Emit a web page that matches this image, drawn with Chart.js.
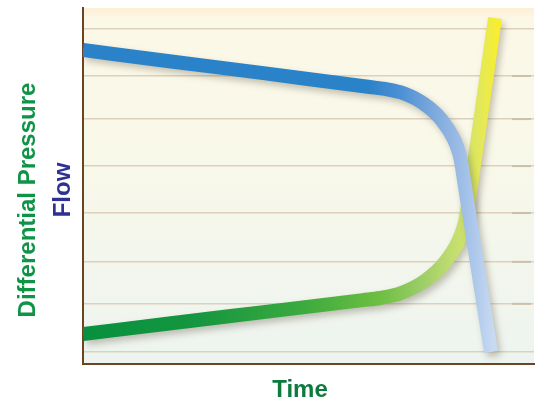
<!DOCTYPE html>
<html>
<head>
<meta charset="utf-8">
<script src="https://cdn.jsdelivr.net/npm/chart.js@4.4.1/dist/chart.umd.min.js"></script>
<style>
  html,body{margin:0;padding:0;background:#fff}
  #wrap{width:539px;height:397px}
</style>
</head>
<body>
<div id="wrap"><canvas id="chart" width="539" height="397"></canvas></div>
<script>
// Time runs 0..100 across the plot, values 0..100 bottom to top
const flowTime = [0, 20, 40, 55, 63.6, 66.96, 71.2, 75.74, 79.53, 82.28, 83.46, 83.88, 84.7, 85.81, 86.9, 89.09, 90.47];
const flowVal  = [88.2, 84.9, 81.7, 79.2, 77.8, 77.25, 75.96, 72.95, 68.54, 63.06, 58.99, 56.43, 49.78, 40.87, 32.02, 14.33, 3.37];

const dpTime = [0, 20, 40, 62.0, 65.85, 70.73, 75.88, 80.13, 83.24, 84.57, 85.1, 86.7, 88.25, 89.8, 91.35];
const dpVal  = [8.4, 11.5, 14.57, 17.95, 18.54, 20.03, 23.43, 28.37, 34.55, 39.16, 42.5, 56.1, 69.78, 83.48, 97.19];

const gridLevels = [3.4, 16.9, 28.7, 42.4, 55.6, 68.8, 80.9, 94.1];

const xTitle = 'Time';
const yTitleOuter = 'Differential Pressure';
const yTitleInner = 'Flow';

const AXIS = '#6b4423';
const FONT = 'bold 24px "Liberation Sans", Arial, sans-serif';

function pts(xs, ys){ return xs.map((x,i)=>({x:x, y:ys[i]})); }

function hGrad(chart, stops){
  const xs = chart.scales.x, a = chart.chartArea;
  if (!a) return stops[0][1];
  const x0 = xs.getPixelForValue(stops[0][0]), x1 = xs.getPixelForValue(stops[stops.length-1][0]);
  const g = chart.ctx.createLinearGradient(x0, 0, x1, 0);
  stops.forEach(s=>g.addColorStop((xs.getPixelForValue(s[0])-x0)/(x1-x0), s[1]));
  return g;
}

const plotBg = {
  id:'plotBg',
  beforeDraw(chart){
    const {ctx, chartArea:a} = chart;
    const g = ctx.createLinearGradient(0, a.top, 0, a.bottom);
    g.addColorStop(0, '#fcefd4');
    g.addColorStop(0.03, '#fcf8e8');
    g.addColorStop(0.45, '#f8f8ea');
    g.addColorStop(1, '#edf4ef');
    ctx.save(); ctx.fillStyle = g;
    ctx.fillRect(a.left, a.top, a.right-a.left, a.bottom-a.top);
    ctx.restore();
  }
};

const shadow = {
  id:'shadow',
  beforeDatasetDraw(chart){
    const c = chart.ctx; c.save();
    c.shadowColor = 'rgba(70,60,40,0.30)'; c.shadowBlur = 7;
    c.shadowOffsetX = 3; c.shadowOffsetY = 4;
  },
  afterDatasetDraw(chart){ chart.ctx.restore(); }
};

const titles = {
  id:'titles',
  afterDraw(chart){
    const {ctx, chartArea:a, scales} = chart;
    ctx.save();
    ctx.font = FONT; ctx.textAlign = 'center'; ctx.textBaseline = 'middle';
    // short darker ticks on right end of inner grid lines
    ctx.strokeStyle = '#cdbfab'; ctx.lineWidth = 2;
    gridLevels.slice(1, -1).forEach(v=>{
      const y = scales.y.getPixelForValue(v);
      ctx.beginPath(); ctx.moveTo(a.right-22, y); ctx.lineTo(a.right-3, y); ctx.stroke();
    });
    ctx.fillStyle = '#0d7a3e';
    ctx.fillText(xTitle, 300, a.bottom + 26);
    ctx.translate(28, 200); ctx.rotate(-Math.PI/2);
    ctx.fillStyle = '#0f9447';
    ctx.fillText(yTitleOuter, 0, 0);
    ctx.rotate(Math.PI/2); ctx.translate(-28, -200);
    ctx.translate(63, 190); ctx.rotate(-Math.PI/2);
    ctx.fillStyle = '#2e3192';
    ctx.fillText(yTitleInner, 0, 0);
    ctx.restore();
  }
};

new Chart(document.getElementById('chart'), {
  type:'line',
  data:{
    datasets:[
      {
        label: yTitleInner,
        data: pts(flowTime, flowVal),
        borderColor: c => hGrad(c.chart, [[63,'#2a82c8'],[70,'#4a8fd3'],[77,'#78a6dc'],[82,'#94b7e3'],[86,'#a9c5ea'],[91,'#c8daf2']]),
        borderWidth: 14
      },
      {
        label: yTitleOuter,
        data: pts(dpTime, dpVal),
        borderColor: c => hGrad(c.chart, [[0,'#07903f'],[25,'#159640'],[48,'#3aa93e'],[66,'#6ebf42'],[75,'#9ccd68'],[81,'#bcdb70'],[85,'#d2e36a'],[88,'#e2e85a'],[92,'#f8ee30']]),
        borderWidth: 14
      }
    ]
  },
  options:{
    responsive:false,
    animation:false,
    devicePixelRatio:1,
    layout:{ padding:{ left:83, top:8, right:5, bottom:33 } },
    elements:{
      point:{ radius:0 },
      line:{ cubicInterpolationMode:'monotone', borderCapStyle:'butt', borderJoinStyle:'round' }
    },
    plugins:{ legend:{ display:false }, tooltip:{ enabled:false } },
    scales:{
      x:{
        type:'linear', min:0, max:100,
        grid:{ display:false, drawTicks:false },
        ticks:{ display:false },
        border:{ display:true, color:AXIS, width:2 }
      },
      y:{
        type:'linear', min:0, max:100,
        afterBuildTicks: s => { s.ticks = gridLevels.map(v=>({value:v})); },
        grid:{ color:'#ddd0bd', lineWidth:1.5, drawTicks:false },
        ticks:{ display:false },
        border:{ display:true, color:AXIS, width:2 }
      }
    }
  },
  plugins:[plotBg, shadow, titles]
});
</script>
</body>
</html>
